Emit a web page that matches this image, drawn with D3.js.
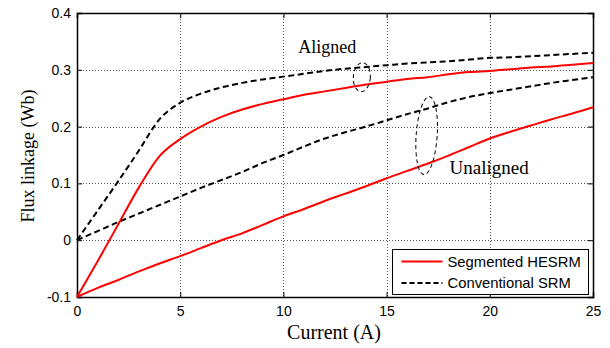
<!DOCTYPE html>
<html>
<head>
<meta charset="utf-8">
<script src="https://cdn.jsdelivr.net/npm/d3@7/dist/d3.min.js"></script>
<style>
  html, body { margin: 0; padding: 0; background: #fff; }
  svg { display: block; }
</style>
</head>
<body>
<svg id="chart" width="610" height="348"></svg>
<script>
// Current (A) sample points
const current = [0,1,2,3,4,5,6,7,8,9,10,11,12,13,14,15,16,17,18,19,20,21,22,23,24,25];

// Flux linkage (Wb) per series
const hesrmAligned = [-0.1,-0.037,0.028,0.093,0.148,0.178,0.2,0.217,0.23,0.24,0.248,0.256,0.262,0.268,0.274,0.279,0.284,0.287,0.292,0.296,0.298,0.301,0.304,0.306,0.309,0.312];
const hesrmUnaligned = [-0.1,-0.084,-0.07,-0.055,-0.041,-0.028,-0.014,0.0,0.012,0.027,0.042,0.055,0.069,0.082,0.095,0.109,0.122,0.135,0.149,0.164,0.179,0.191,0.202,0.213,0.223,0.234];
const srmAligned = [0,0.052,0.104,0.158,0.213,0.242,0.258,0.269,0.277,0.283,0.288,0.293,0.298,0.302,0.305,0.308,0.311,0.313,0.315,0.318,0.321,0.322,0.324,0.326,0.328,0.33];
const srmUnaligned = [0,0.016,0.032,0.047,0.062,0.077,0.092,0.106,0.12,0.136,0.15,0.165,0.179,0.19,0.2,0.211,0.222,0.232,0.243,0.252,0.259,0.265,0.271,0.277,0.282,0.287];

const xTicks = [0,5,10,15,20,25];
const yTicks = [-0.1,0,0.1,0.2,0.3,0.4];
const yTickLabels = ["-0.1","0","0.1","0.2","0.3","0.4"];

const legendLabels = ["Segmented HESRM","Conventional SRM"];

// annotation ellipses and their labels (data coordinates)
const annotations = [
  { text: "Aligned",   cx: 13.8,  cy: 0.287, tx: 10.72, ty: 0.3296, size: 18 },
  { text: "Unaligned", cx: 16.94, cy: 0.184, tx: 18.05, ty: 0.1165, size: 19 }
];

const svg = d3.select("#chart");
const L = 77, R = 593, T = 13, B = 297;

const x = d3.scaleLinear().domain([0,25]).range([L,R]);
const y = d3.scaleLinear().domain([-0.1,0.4]).range([B,T]);

// grid
const grid = svg.append("g");
grid.selectAll(".gx").data(xTicks.slice(1,-1)).join("line")
  .attr("x1", d => Math.round(x(d))+0.5).attr("x2", d => Math.round(x(d))+0.5)
  .attr("y1", T).attr("y2", B)
  .attr("stroke", "#555").attr("stroke-width", 1).attr("stroke-dasharray", "1,2");
grid.selectAll(".gy").data(yTicks.slice(1,-1)).join("line")
  .attr("y1", d => Math.round(y(d))+0.5).attr("y2", d => Math.round(y(d))+0.5)
  .attr("x1", L).attr("x2", R)
  .attr("stroke", "#555").attr("stroke-width", 1).attr("stroke-dasharray", "1,2");

// axes
const fontSans = "'Liberation Sans', Arial, sans-serif";
const fontSerif = "'Liberation Serif', 'Times New Roman', serif";

const xAxis = svg.append("g").attr("transform", `translate(0,${B})`)
  .call(d3.axisBottom(x).tickValues(xTicks).tickSize(-5).tickPadding(9).tickFormat(d3.format("d")));
const xAxisTop = svg.append("g").attr("transform", `translate(0,${T})`)
  .call(d3.axisTop(x).tickValues(xTicks).tickSize(-5).tickFormat(""));
const yAxis = svg.append("g").attr("transform", `translate(${L},0)`)
  .call(d3.axisLeft(y).tickValues(yTicks).tickSize(-5).tickPadding(6).tickFormat((d,i) => yTickLabels[i]));
const yAxisRight = svg.append("g").attr("transform", `translate(${R},0)`)
  .call(d3.axisRight(y).tickValues(yTicks).tickSize(-5).tickFormat(""));

[xAxis, xAxisTop, yAxis, yAxisRight].forEach(g => {
  g.select(".domain").attr("stroke", "#000").attr("stroke-width", 1.5);
  g.selectAll(".tick line").attr("stroke", "#000");
  g.selectAll("text").attr("font-family", fontSans).attr("font-size", 14).attr("fill", "#000");
});
xAxis.selectAll(".tick text").attr("dy", "0.71em");

// curves
const line = d3.line().x((d,i) => x(current[i])).y(d => y(d)).curve(d3.curveMonotoneX);
const curves = [
  { data: srmAligned,     color: "#000", dash: "6,3.5" },
  { data: srmUnaligned,   color: "#000", dash: "6,3.5" },
  { data: hesrmAligned,   color: "#f00", dash: null },
  { data: hesrmUnaligned, color: "#f00", dash: null }
];
svg.append("g").selectAll("path").data(curves).join("path")
  .attr("d", d => line(d.data))
  .attr("fill", "none")
  .attr("stroke", d => d.color)
  .attr("stroke-width", 2)
  .attr("stroke-dasharray", d => d.dash);

// annotation ellipses and labels
const ann = svg.append("g");
ann.selectAll("ellipse").data(annotations).join("ellipse")
  .attr("cx", d => x(d.cx)).attr("cy", d => y(d.cy))
  .attr("rx", (d,i) => i === 0 ? 8.5 : 10.5)
  .attr("ry", (d,i) => i === 0 ? 14.5 : 39)
  .attr("transform", d => `rotate(4,${x(d.cx)},${y(d.cy)})`)
  .attr("fill", "none").attr("stroke", "#000").attr("stroke-width", 1)
  .attr("stroke-dasharray", "4,3");
ann.selectAll("text").data(annotations).join("text")
  .attr("x", d => x(d.tx)).attr("y", d => y(d.ty))
  .attr("font-family", fontSerif).attr("font-size", d => d.size).attr("fill", "#000")
  .text(d => d.text);

// axis titles
svg.append("text").attr("x", 334).attr("y", 339)
  .attr("text-anchor", "middle").attr("font-family", fontSerif).attr("font-size", 20)
  .text("Current (A)");
svg.append("text").attr("transform", `translate(34,${156}) rotate(-90)`)
  .attr("text-anchor", "middle").attr("font-family", fontSerif).attr("font-size", 18)
  .text("Flux linkage (Wb)");

// legend
const lg = svg.append("g");
lg.append("rect").attr("x", 392.5).attr("y", 249.5).attr("width", 196).attr("height", 45)
  .attr("fill", "#fff").attr("stroke", "#000").attr("stroke-width", 1);
const items = [
  { label: legendLabels[0], color: "#f00", dash: null, yy: 261.5 },
  { label: legendLabels[1], color: "#000", dash: "5,3", yy: 283 }
];
items.forEach(it => {
  lg.append("line").attr("x1", 401.5).attr("x2", 442.5).attr("y1", it.yy).attr("y2", it.yy)
    .attr("stroke", it.color).attr("stroke-width", 2)
    .attr("stroke-dasharray", it.dash);
  lg.append("text").attr("x", 447.5).attr("y", it.yy).attr("dy", "0.35em")
    .attr("font-family", fontSans).attr("font-size", 14.8).text(it.label);
});
</script>
</body>
</html>
